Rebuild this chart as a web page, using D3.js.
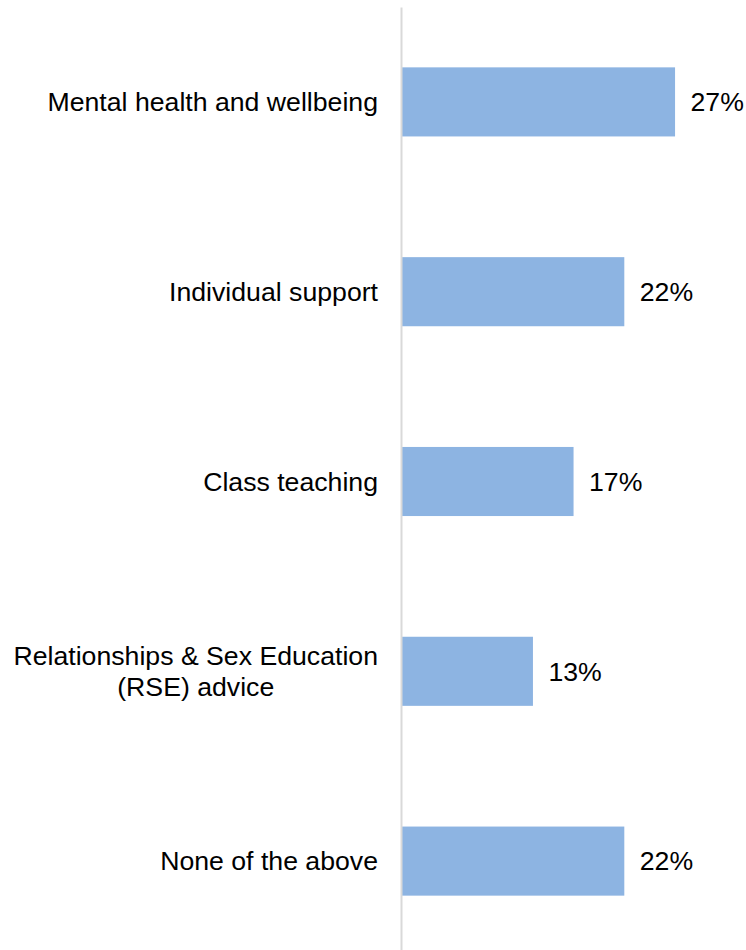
<!DOCTYPE html>
<html>
<head>
<meta charset="utf-8">
<script src="https://cdn.jsdelivr.net/npm/d3@7"></script>
<style>
  html, body { margin: 0; padding: 0; background: #ffffff; }
  svg { display: block; }
  text { font-family: "Liberation Sans", Arial, Helvetica, sans-serif; fill: #000; }
</style>
</head>
<body>
<svg id="chart" width="746" height="950"></svg>
<script>
// Survey responses: share of respondents per area of support
const categories = [
  ["Mental health and wellbeing"],
  ["Individual support"],
  ["Class teaching"],
  ["Relationships & Sex Education", "(RSE) advice"],
  ["None of the above"]
];
const values = [27, 22, 17, 13, 22];
const valueLabels = ["27%", "22%", "17%", "13%", "22%"];

const keys = categories.map(c => c.join(" "));
const fontSize = 26.67;

const svg = d3.select("#chart");

const x = d3.scaleLinear().domain([0, 30]).range([401, 705.5]);
const y = d3.scaleBand().domain(keys).range([7, 956])
  .paddingInner(0.636).paddingOuter(0.318);

// Bars
svg.append("g").selectAll("rect")
  .data(values)
  .join("rect")
  .attr("x", x(0))
  .attr("y", (d, i) => y(keys[i]))
  .attr("width", d => x(d) - x(0))
  .attr("height", y.bandwidth())
  .attr("fill", "#8db4e2");

// Category axis (vertical line + labels)
const axis = svg.append("g")
  .attr("transform", `translate(${x(0)},0)`)
  .call(d3.axisLeft(y).tickSize(0).tickSizeOuter(0).tickPadding(23).tickFormat(() => ""));

axis.select(".domain").attr("stroke", "#d9d9d9").attr("stroke-width", 2);

axis.selectAll(".tick").each(function (k, i) {
  const lines = categories[i];
  const t = d3.select(this).select("text")
    .attr("font-size", fontSize)
    .attr("font-family", "'Liberation Sans', Arial, sans-serif")
    .attr("dy", null)
    .text(null);
  const lineH = 30.5;
  const spans = lines.map((line, j) =>
    t.append("tspan")
      .attr("y", (j - (lines.length - 1) / 2) * lineH)
      .attr("dy", "0.35em")
      .text(line));
  if (lines.length > 1) {
    // centre the wrapped lines under each other, block right-aligned
    const w = d3.max(spans, s => s.node().getComputedTextLength());
    t.attr("text-anchor", "middle");
    spans.forEach(s => s.attr("x", -23 - w / 2));
  } else {
    spans.forEach(s => s.attr("x", -23));
  }
});

// Value labels
svg.append("g").selectAll("text")
  .data(values)
  .join("text")
  .attr("x", d => x(d) + 15.5)
  .attr("y", (d, i) => y(keys[i]) + y.bandwidth() / 2)
  .attr("dy", "0.35em")
  .attr("font-size", fontSize)
  .text((d, i) => valueLabels[i]);
</script>
</body>
</html>
